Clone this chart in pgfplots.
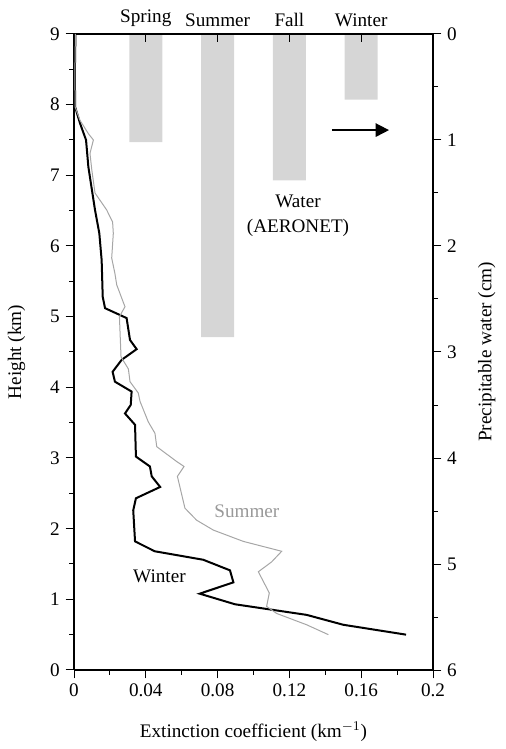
\documentclass[border=0pt]{standalone}
\usepackage{fontspec}
\setmainfont{Liberation Serif}
\usepackage{pgfplots}
\pgfplotsset{compat=1.18}
\usetikzlibrary{arrows.meta}
\begin{document}
\begin{tikzpicture}
\pgfplotsset{every axis/.append style={
  scale only axis, width=215.4pt, height=381.6pt,
  xmin=0, xmax=0.2,
  /pgf/number format/assume math mode=true,
  axis line style={black, line width=0.8pt},
  tick style={black, line width=0.6pt},
  major tick length=5pt, minor tick length=3pt,
  font=\fontsize{11.5}{13}\selectfont,
  clip=false}}
% precipitable water bars (right axis, reversed)
\begin{axis}[name=bx,
  axis on top,
  axis x line*=top, axis y line*=right,
  ymin=0, ymax=6, y dir=reverse,
  xtick={0.04,0.08,0.12,0.16},
  xticklabels={Spring,Summer,Fall,Winter},
  xtick align=inside,
  xticklabel style={yshift=1pt},
  ytick={0,1,2,3,4,5,6},
  minor ytick={0.5,1.5,2.5,3.5,4.5,5.5},
  ytick align=outside,
  ylabel={Precipitable water (cm)},
  every axis y label/.style={at={(axis description cs:1.150,0.5)}, rotate=90, anchor=center},
]
\addplot[ybar, bar width=0.0184, fill=gray!32, draw=none] coordinates {
  (0.04,1.02) (0.08,2.86) (0.12,1.38) (0.16,0.62)};
\end{axis}
% extinction profiles
\begin{axis}[name=ax,
  axis x line*=bottom, axis y line*=left,
  ymin=0, ymax=9,
  xtick={0,0.04,0.08,0.12,0.16,0.2},
  xticklabels={0,0.04,0.08,0.12,0.16,0.2},
  minor xtick={0.02,0.06,0.10,0.14,0.18},
  ytick={0,1,2,3,4,5,6,7,8,9},
  minor ytick={0.5,1.5,2.5,3.5,4.5,5.5,6.5,7.5,8.5},
  tick align=outside,
  xlabel={Extinction coefficient (km$^{-1}$)},
  every axis x label/.style={at={(axis description cs:0.5,-0.0975)}, anchor=center},
  ylabel={Height (km)},
  every axis y label/.style={at={(axis description cs:-0.16,0.5)}, rotate=90, anchor=center},
]
\addplot[black, line width=1.2pt] coordinates {
(0.185,0.50) (0.150,0.64) (0.1296,0.78) (0.0897,0.93) (0.070,1.08) (0.0888,1.24)
(0.0869,1.41) (0.072,1.56) (0.045,1.68) (0.034,1.82) (0.033,2.26) (0.0345,2.43)
(0.048,2.59) (0.0433,2.74) (0.0423,2.88) (0.0345,3.02) (0.034,3.47) (0.0284,3.63)
(0.0316,3.75) (0.0321,3.94) (0.0228,4.08) (0.0215,4.22) (0.0266,4.39) (0.0349,4.54)
(0.0312,4.67) (0.0293,4.98) (0.0173,5.12) (0.016,5.28) (0.0154,5.80) (0.0141,6.18)
(0.0117,6.51) (0.008,7.12) (0.0067,7.50) (0.0033,7.74) (0.0006,7.97) (0.0005,8.5) (0.0008,9.0)};
\addplot[gray!70, line width=0.6pt] coordinates {
(0.1417,0.50) (0.1296,0.64) (0.1129,0.80) (0.1073,0.90) (0.1088,1.09) (0.1027,1.39)
(0.1101,1.53) (0.1157,1.68) (0.0943,1.82) (0.0776,1.98) (0.0683,2.12) (0.0618,2.29)
(0.0576,2.74) (0.0613,2.88) (0.0572,2.95) (0.0461,3.16) (0.0451,3.35) (0.0414,3.51)
(0.0368,3.80) (0.0358,3.92) (0.0312,4.08) (0.0303,4.26) (0.0262,4.43) (0.0256,4.81)
(0.0253,5.0) (0.0284,5.14) (0.0238,5.45) (0.0228,5.61) (0.021,5.83) (0.0219,6.18)
(0.0215,6.34) (0.0182,6.51) (0.0117,6.75) (0.0099,7.08) (0.0089,7.31) (0.0108,7.50)
(0.008,7.59) (0.0033,7.78) (0.0006,7.97) (0.0005,8.5) (0.0008,9.0)};
\draw[black, line width=1pt, -{Triangle[length=8pt,width=8pt]}] (axis cs:0.1437,7.64) -- (axis cs:0.1755,7.64);
\node[align=center, font=\fontsize{11.5}{15}\selectfont] at (axis cs:0.1248,6.43) {Water\\(AERONET)};
\node[text=gray!80] at (axis cs:0.0963,2.24) {Summer};
\node at (axis cs:0.0476,1.32) {Winter};
\end{axis}
\path ([shift={(-44.4pt,-47.4pt)}]bx.south west) rectangle ([shift={(43.2pt,20.4pt)}]bx.north east);
\end{tikzpicture}
\end{document}
